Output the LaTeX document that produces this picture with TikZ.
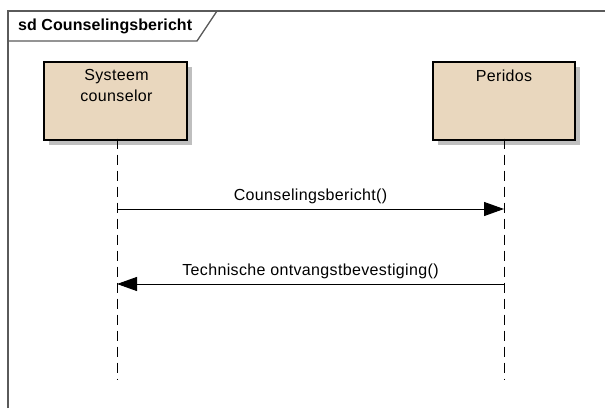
\documentclass[tikz,border=0pt]{standalone}
\usepackage{fontspec}
\setmainfont{Liberation Sans}[LetterSpace=2.2, BoldFeatures={LetterSpace=0.5}]
\usetikzlibrary{arrows.meta,positioning}
\definecolor{headfill}{RGB}{233,215,190}
\definecolor{framecol}{RGB}{90,90,90}
\tikzset{
  headbox/.style={draw=black, line width=1.2pt, fill=headfill, minimum width=143pt, minimum height=78pt, inner sep=0pt},
  headshadow/.style={fill=black!25},
  headtext/.style={font=\fontsize{16}{21}\selectfont, align=center, inner sep=0pt, anchor=north},
  lifeline/.style={line width=1pt, dash pattern=on 10pt off 6pt},
  msg/.style={line width=1pt, -{Triangle[length=20pt,width=14pt]}},
  msglabel/.style={font=\fontsize{16}{19}\selectfont, inner sep=0pt},
  framestyle/.style={draw=framecol, line width=1.3pt}
}
\begin{document}
\begin{tikzpicture}[x=1pt,y=-1pt]
\useasboundingbox (0,0) rectangle (605,408);
% frame
\draw[framestyle] (8,408) -- (8,11) -- (605,11);
\draw[framestyle] (8,41) -- (197,41) -- (217,11);
\node[font=\bfseries\fontsize{16}{19}\selectfont, anchor=west, inner sep=0pt] (title) at (18,26.5) {sd Counselingsbericht};
% lifeline heads
\fill[headshadow] (49,67) rectangle (192,145);
\fill[headshadow] (438,67) rectangle (580,145);
\node[headbox] (a) at (115.5,101) {};
\node[headbox, minimum width=142pt] (b) at (504,101) {};
\node[headtext] (at) at ([yshift=-8pt,xshift=1pt]a.north) {Systeem\\counselor};
\node[headtext] (bt) at ([yshift=-8pt]b.north) {Peridos};
% lifelines
\coordinate (aend) at ([xshift=1.5pt]a.south |- 0,379);
\coordinate (bend) at (b.south |- 0,379);
\draw[lifeline] ([xshift=1.5pt,yshift=2pt]a.south) -- (aend);
\draw[lifeline] ([yshift=2pt]b.south) -- (bend);
% messages
\coordinate (m1a) at (aend |- 0,209);
\coordinate (m1b) at (bend |- 0,209);
\coordinate (m2a) at (aend |- 0,284);
\coordinate (m2b) at (bend |- 0,284);
\draw[msg] (m1a) -- (m1b) node[msglabel, midway, above=5pt] (l1) {Counselingsbericht()};
\draw[msg] (m2b) -- (m2a) node[msglabel, midway, above=5pt] (l2) {Technische ontvangstbevestiging()};
\end{tikzpicture}
\end{document}
